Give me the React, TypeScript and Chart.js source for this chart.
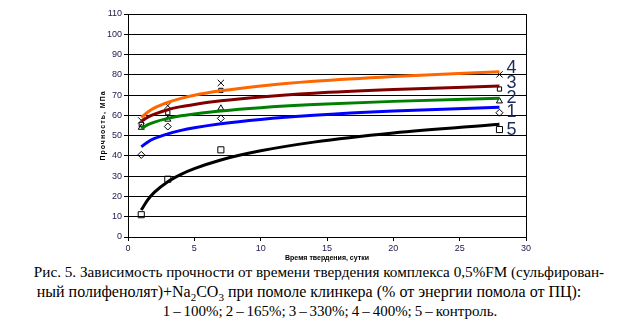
import React, { useEffect, useRef } from "react";
import { Chart, registerables } from "chart.js";

Chart.register(...registerables);

// Measured points (days, MPa)
const days = [1, 3, 7, 28];
const s1Points = [40.5, 54.5, 58.5, 61.3]; // 1 – 100%
const s2Points = [54, 58, 63.5, 67]; // 2 – 165%
const s3Points = [55.5, 61.3, 72.3, 73]; // 3 – 330%
const s4Points = [57.5, 64.8, 76, 80.2]; // 4 – 400%
const s5Points = [11, 28.5, 43, 53]; // 5 – control

// Trend curves
const curveDays = [1, 1.5, 2, 3, 4, 5, 7, 10, 14, 20, 28];
const s1Curve = [44.5, 46.9, 48.6, 50.9, 52.6, 53.9, 55.9, 58.0, 60.0, 62.1, 64.0];
const s2Curve = [53.6, 55.4, 56.7, 58.5, 59.8, 60.7, 62.2, 63.8, 65.3, 66.9, 68.4];
const s3Curve = [57.0, 59.1, 60.6, 62.8, 64.3, 65.4, 67.2, 69.1, 70.9, 72.7, 74.5];
const s4Curve = [59.0, 61.7, 63.7, 66.4, 68.4, 69.9, 72.1, 74.5, 76.8, 79.2, 81.5];
const s5Curve = [13.3, 18.4, 22.1, 27.3, 30.9, 33.7, 38.0, 42.5, 46.8, 51.3, 55.6];

// End labels of curves
const endLabels = ["4", "3", "2", "1", "5"];
const endLabelValues = [83.4, 76, 68.6, 61.7, 52.8];

const yTitle = "Прочность, МПа";
const xTitle = "Время твердения, сутки";

const captionLine1 = "Рис. 5. Зависимость прочности от времени твердения комплекса 0,5%FM (сульфирован-";
const captionLine3 = "1 – 100%; 2 – 165%; 3 – 330%; 4 – 400%; 5 – контроль.";

const toXY = (xs: number[], ys: number[]) => xs.map((x, i) => ({ x, y: ys[i] }));

export default function App() {
  const ref = useRef<HTMLCanvasElement | null>(null);

  useEffect(() => {
    if (!ref.current) return;
    const curve = (data: number[], color: string) => ({
      type: "line" as const,
      data: toXY(curveDays, data),
      borderColor: color,
      backgroundColor: color,
      borderWidth: 3,
      pointRadius: 0,
      showLine: true,
      fill: false,
      cubicInterpolationMode: "monotone" as const,
      order: 1,
    });
    const marks = (data: number[], style: string, r: number) => ({
      type: "scatter" as const,
      data: toXY(days, data),
      pointStyle: style,
      pointRadius: r,
      borderColor: "#000",
      backgroundColor: "rgba(255,255,255,0)",
      pointBorderWidth: 1,
      showLine: false,
      order: 2,
    });

    const decor = {
      id: "decor",
      afterDraw(chart: any) {
        const { ctx, chartArea, scales } = chart;
        const xs = scales.x;
        const ys = scales.y;
        ctx.save();
        ctx.strokeStyle = "#000";
        ctx.lineWidth = 1;
        ctx.beginPath();
        ctx.moveTo(Math.round(chartArea.right) + 0.5, chartArea.top);
        ctx.lineTo(Math.round(chartArea.right) + 0.5, chartArea.bottom);
        ctx.stroke();
        ctx.fillStyle = "#1c2a5a";
        ctx.font = "18px 'Liberation Sans', Arial, sans-serif";
        ctx.textAlign = "left";
        ctx.textBaseline = "middle";
        const lx = xs.getPixelForValue(28) + 7;
        endLabels.forEach((t, i) => {
          ctx.fillText(t, lx, ys.getPixelForValue(endLabelValues[i]));
        });
        ctx.fillStyle = "#000";
        ctx.font = "bold 7px 'Liberation Sans', Arial, sans-serif";
        ctx.textAlign = "center";
        ctx.fillText(xTitle, (chartArea.left + chartArea.right) / 2, chartArea.bottom + 21);
        ctx.translate(chartArea.left - 25, (chartArea.top + chartArea.bottom) / 2);
        ctx.rotate(-Math.PI / 2);
        (ctx as any).letterSpacing = "1px";
        ctx.fillText(yTitle, 0, 0);
        ctx.restore();
      },
    };

    const chart = new Chart(ref.current, {
      type: "scatter",
      data: {
        datasets: [
          curve(s4Curve, "#FF6600"),
          curve(s3Curve, "#800000"),
          curve(s2Curve, "#008000"),
          curve(s1Curve, "#0000FF"),
          curve(s5Curve, "#000000"),
          marks(s1Points, "rectRot", 3.5),
          marks(s2Points, "triangle", 3.5),
          marks(s3Points, "rect", 3),
          marks(s4Points, "crossRot", 4.5),
          marks(s5Points, "rect", 4.3),
        ] as any,
      },
      options: {
        animation: false,
        responsive: false,
        maintainAspectRatio: false,
        layout: { padding: { left: 0, right: 96, top: 14, bottom: 0 } },
        plugins: { legend: { display: false }, tooltip: { enabled: false } },
        scales: {
          x: {
            type: "linear",
            min: 0,
            max: 30,
            afterFit: (s: any) => { s.height = 25; },
            ticks: {
              stepSize: 5,
              color: "#202050",
              font: { family: "'Liberation Sans', Arial, sans-serif", size: 9 },
              padding: 2,
              maxRotation: 0,
            },
            grid: { drawOnChartArea: false, drawTicks: true, tickLength: 4, color: "#000" },
            border: { color: "#000", width: 1 },
          },
          y: {
            type: "linear",
            min: 0,
            max: 110,
            afterFit: (s: any) => { s.width = 128; },
            ticks: {
              stepSize: 10,
              color: "#202050",
              font: { family: "'Liberation Sans', Arial, sans-serif", size: 9 },
              padding: 2,
            },
            grid: { color: "#000", lineWidth: 1, tickLength: 4 },
            border: { color: "#000", width: 1 },
          },
        },
      },
      plugins: [decor],
    } as any);
    return () => chart.destroy();
  }, []);

  const capStyle: React.CSSProperties = {
    position: "absolute",
    textAlign: "center",
    fontFamily: "'Liberation Serif', 'Times New Roman', serif",
    fontSize: 16,
    lineHeight: "20px",
    color: "#000",
    whiteSpace: "nowrap",
  };

  return (
    <div style={{ position: "absolute", left: 0, top: 0, width: 622, height: 323, background: "#fff", overflow: "hidden" }}>
      <canvas ref={ref} width={622} height={262} style={{ position: "absolute", left: 0, top: 0, width: 622, height: 262 }} />
      <div style={{ ...capStyle, top: 262, left: 8, width: 622, fontSize: 15.2 }}>{captionLine1}</div>
      <div style={{ ...capStyle, top: 282, left: -2, width: 622 }}>
        ный полифенолят)+Na<sub style={{ fontSize: 11, lineHeight: 0 }}>2</sub>CO<sub style={{ fontSize: 11, lineHeight: 0 }}>3</sub> при помоле клинкера (% от энергии помола от ПЦ):
      </div>
      <div style={{ ...capStyle, top: 301, left: 19, width: 622, fontSize: 15, wordSpacing: -0.8 }}>{captionLine3}</div>
    </div>
  );
}
